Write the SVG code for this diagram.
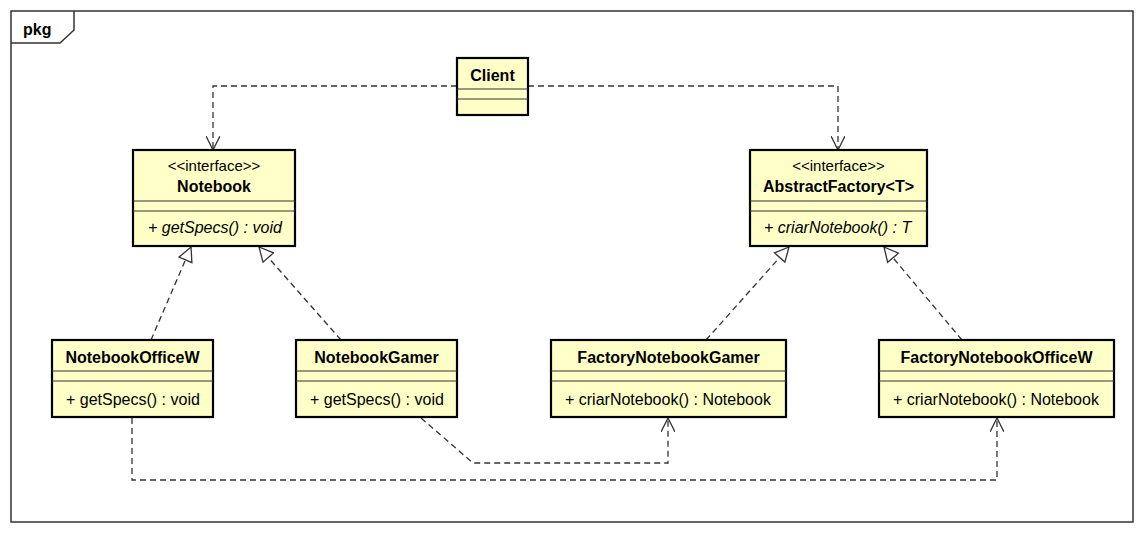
<svg xmlns="http://www.w3.org/2000/svg" width="1145" height="535" viewBox="0 0 1145 535">
<style>
.box{fill:#ffffc8;stroke:#000;stroke-width:2.2}
.div{stroke:#333;stroke-width:1}
.frame{fill:none;stroke:#333;stroke-width:1.5}
.t{font-family:"Liberation Sans",Arial,sans-serif;font-size:16px;fill:#000}
.b{font-weight:bold}
.c{text-anchor:middle}
.i{font-style:italic}
.st{font-size:15px}
.con{fill:none;stroke:#333;stroke-width:1.3;stroke-dasharray:6,4}
</style>
<defs>
<marker id="open" viewBox="0 0 14 14" refX="14" refY="7" markerWidth="14" markerHeight="14" markerUnits="userSpaceOnUse" orient="auto">
<path d="M0,0 L14,7 L0,14" fill="none" stroke="#333" stroke-width="1.3" stroke-dasharray="none"/>
</marker>
<marker id="tri" viewBox="0 0 16 16" refX="15" refY="8" markerWidth="16" markerHeight="16" markerUnits="userSpaceOnUse" orient="auto">
<path d="M1,1 L15,8 L1,15 Z" fill="#fff" stroke="#333" stroke-width="1.3" stroke-dasharray="none"/>
</marker>
</defs>
<rect width="1145" height="535" fill="#fff"/>
<g id="frame">
<rect class="frame" x="11" y="11" width="1122" height="511"/>
<path class="frame" d="M11,43 H60 L74,30 V11"/>
<text class="t b" x="23" y="35">pkg</text>
</g>
<g id="connectors">
<path class="con" d="M457,86 H213 V150" marker-end="url(#open)"/>
<path class="con" d="M528,86 H838 V150" marker-end="url(#open)"/>
<path class="con" d="M151,340 L191,247" marker-end="url(#tri)"/>
<path class="con" d="M341,340 L259,247" marker-end="url(#tri)"/>
<path class="con" d="M706,340 L789,247" marker-end="url(#tri)"/>
<path class="con" d="M962,340 L884,247" marker-end="url(#tri)"/>
<path class="con" d="M421,418 L473,463 H668 V418" marker-end="url(#open)"/>
<path class="con" d="M132,418 V480 H997 V418" marker-end="url(#open)"/>
</g>
<g id="Client">
<rect class="box" x="457" y="58" width="71" height="57"/>
<line class="div" x1="457" y1="89" x2="528" y2="89"/>
<line class="div" x1="457" y1="99" x2="528" y2="99"/>
<text class="t b c" x="492.5" y="81">Client</text>
</g>
<g id="Notebook">
<rect class="box" x="133" y="150" width="162" height="96"/>
<line class="div" x1="133" y1="201" x2="295" y2="201"/>
<line class="div" x1="133" y1="211" x2="295" y2="211"/>
<text class="t st c" x="214" y="171">&lt;&lt;interface&gt;&gt;</text>
<text class="t b c" x="214" y="192">Notebook</text>
<text class="t i" x="148" y="233">+ getSpecs() : void</text>
</g>
<g id="AbstractFactory">
<rect class="box" x="750" y="150" width="177" height="96"/>
<line class="div" x1="750" y1="201" x2="927" y2="201"/>
<line class="div" x1="750" y1="211" x2="927" y2="211"/>
<text class="t st c" x="838.5" y="171">&lt;&lt;interface&gt;&gt;</text>
<text class="t b c" x="838.5" y="192">AbstractFactory&lt;T&gt;</text>
<text class="t i" x="764" y="233">+ criarNotebook() : T</text>
</g>
<g id="NotebookOfficeW">
<rect class="box" x="52" y="340" width="161" height="77"/>
<line class="div" x1="52" y1="371" x2="213" y2="371"/>
<line class="div" x1="52" y1="381" x2="213" y2="381"/>
<text class="t b c" x="132.5" y="363">NotebookOfficeW</text>
<text class="t" x="66" y="405">+ getSpecs() : void</text>
</g>
<g id="NotebookGamer">
<rect class="box" x="296" y="340" width="161" height="77"/>
<line class="div" x1="296" y1="371" x2="457" y2="371"/>
<line class="div" x1="296" y1="381" x2="457" y2="381"/>
<text class="t b c" x="376.5" y="363">NotebookGamer</text>
<text class="t" x="310" y="405">+ getSpecs() : void</text>
</g>
<g id="FactoryNotebookGamer">
<rect class="box" x="551" y="340" width="235" height="77"/>
<line class="div" x1="551" y1="371" x2="786" y2="371"/>
<line class="div" x1="551" y1="381" x2="786" y2="381"/>
<text class="t b c" x="668.5" y="363">FactoryNotebookGamer</text>
<text class="t" x="565" y="405">+ criarNotebook() : Notebook</text>
</g>
<g id="FactoryNotebookOfficeW">
<rect class="box" x="879" y="340" width="235" height="77"/>
<line class="div" x1="879" y1="371" x2="1114" y2="371"/>
<line class="div" x1="879" y1="381" x2="1114" y2="381"/>
<text class="t b c" x="996.5" y="363">FactoryNotebookOfficeW</text>
<text class="t" x="893" y="405">+ criarNotebook() : Notebook</text>
</g>
</svg>
